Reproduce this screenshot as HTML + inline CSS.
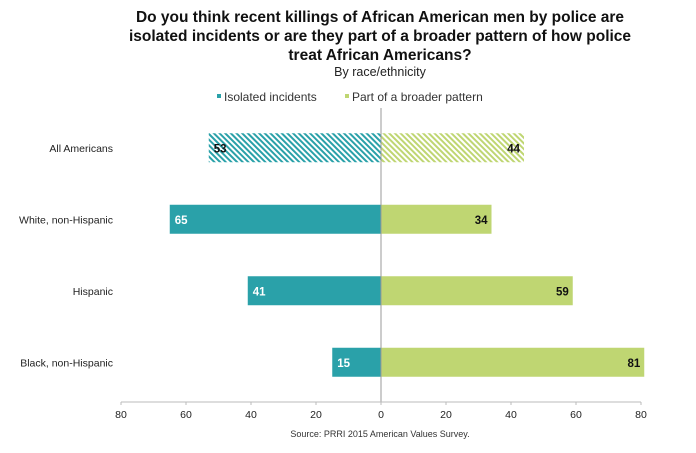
<!DOCTYPE html>
<html><head><meta charset="utf-8"><style>
body{margin:0;background:#fff;font-family:"Liberation Sans",Arial,sans-serif}
svg text{font-family:"Liberation Sans",Arial,sans-serif}
</style></head><body>
<svg width="696" height="448" viewBox="0 0 696 448">
<defs>
<pattern id="hatchT" patternUnits="userSpaceOnUse" width="4" height="4" patternTransform="rotate(-45)">
<rect width="4" height="4" fill="#fff"/><rect width="2" height="4" fill="#2aa1a9"/></pattern>
<pattern id="hatchG" patternUnits="userSpaceOnUse" width="4" height="4" patternTransform="rotate(-45)">
<rect width="4" height="4" fill="#fff"/><rect width="2" height="4" fill="#bfd672"/></pattern>
</defs>
<g font-weight="bold" font-size="15.5" text-anchor="middle" fill="#111">
<text x="380" y="22">Do you think recent killings of African American men by police are</text>
<text x="380" y="41">isolated incidents or are they part of a broader pattern of how police</text>
<text x="380" y="60">treat African Americans?</text>
</g>
<text x="380" y="76" font-size="12.5" text-anchor="middle" fill="#222">By race/ethnicity</text>
<g font-size="12" fill="#333">
<rect x="217" y="94" width="4" height="4" fill="#2aa1a9"/>
<text x="224" y="101">Isolated incidents</text>
<rect x="345" y="94" width="4" height="4" fill="#bfd672"/>
<text x="352" y="101">Part of a broader pattern</text>
</g>
<g id="plot"></g>
<text x="380" y="437" font-size="9" text-anchor="middle" fill="#333">Source: PRRI 2015 American Values Survey.</text>
</svg>
<script>
const categories=["All Americans","White, non-Hispanic","Hispanic","Black, non-Hispanic"];
const isolated=[53,65,41,15];
const pattern=[44,34,59,81];
const ticks=[80,60,40,20,0,20,40,60,80];
const NS="http://www.w3.org/2000/svg";
const g=document.getElementById('plot');
const x0=381,ppu=3.25,top0=112,rowH=71.5,barH=29;
const xs=v=>x0+v*ppu;
const yc=i=>top0+rowH*(i+0.5);
function el(t,a){const e=document.createElementNS(NS,t);for(const k in a)e.setAttribute(k,a[k]);g.appendChild(e);return e;}
categories.forEach((c,i)=>{
  const y=yc(i);
  const t=el('text',{x:113,y:y+4,'font-size':10.5,'text-anchor':'end',fill:'#222'});t.textContent=c;
  
  
  const hatch=i===0;
  const b1=el('rect',{x:xs(-isolated[i]),y:y-barH/2,width:isolated[i]*ppu,height:barH,fill:hatch?'url(#hatchT)':'#2aa1a9'});
  
  
  const b2=el('rect',{x:x0,y:y-barH/2,width:pattern[i]*ppu,height:barH,fill:hatch?'url(#hatchG)':'#bfd672'});
  
  
  const l1=el('text',{x:xs(-isolated[i])+5,y:y+4.5,'font-size':11.5,'font-weight':'bold',fill:hatch?'#111':'#fff'});l1.textContent=isolated[i];
  
  
  const l2=el('text',{x:xs(pattern[i])-4,y:y+4.5,'font-size':11.5,'font-weight':'bold','text-anchor':'end',fill:'#111'});l2.textContent=pattern[i];
  
  
});
const cl=el('line',{x1:x0,x2:x0,y1:108,y2:402,stroke:'#999','stroke-width':1});


const ax=el('line',{x1:xs(-80),x2:xs(80),y1:402,y2:402,stroke:'#bbb','stroke-width':1});


ticks.forEach((v,i)=>{
  const val=i<4?-v:v;
  const tk=el('line',{x1:xs(val),x2:xs(val),y1:402,y2:405,stroke:'#bbb'});
  
  
  const t=el('text',{x:xs(val),y:418,'font-size':10.5,'text-anchor':'middle',fill:'#222'});t.textContent=v;
  
  
});
</script>
</body></html>
